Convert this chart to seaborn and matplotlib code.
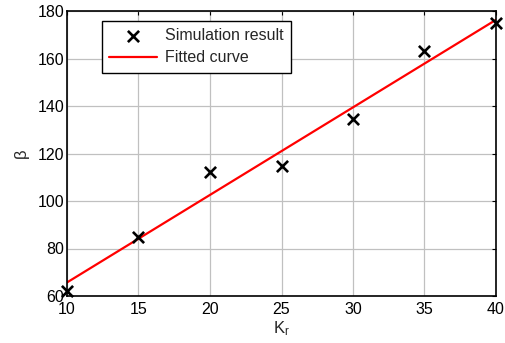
import matplotlib
matplotlib.use("Agg")
import matplotlib.pyplot as plt
import seaborn as sns
import pandas as pd

kr_values = [10, 15, 20, 25, 30, 35, 40]
beta_values = [62.2, 85.0, 112.3, 114.9, 134.4, 163.3, 174.8]
fit_x = [10, 40]
fit_y = [65.7, 176.3]
x_ticks = [10, 15, 20, 25, 30, 35, 40]
y_ticks = [60, 80, 100, 120, 140, 160, 180]

sns.set_style("white")
plt.rcParams['font.family'] = ['Liberation Sans', 'DejaVu Sans']
plt.rcParams['mathtext.fontset'] = 'custom'
plt.rcParams['mathtext.rm'] = 'Liberation Sans'
plt.rcParams['mathtext.it'] = 'Liberation Sans'

fig = plt.figure(figsize=(5.05, 3.43), dpi=100)
ax = fig.add_axes([67/505, 1 - 296/343, (496 - 67)/505, (296 - 11)/343])

sim = pd.DataFrame({"Kr": kr_values, "beta": beta_values})
fit = pd.DataFrame({"Kr": fit_x, "beta": fit_y})

sns.scatterplot(data=sim, x="Kr", y="beta", marker="x", color="black", s=65,
                linewidth=1.9, ax=ax, label="Simulation result", zorder=3,
                clip_on=False)
sns.lineplot(data=fit, x="Kr", y="beta", color="red", linewidth=1.6, ax=ax,
             label="Fitted curve", zorder=2)

ax.set_xlim(10, 40)
ax.set_ylim(60, 180)
ax.set_xticks(x_ticks)
ax.set_yticks(y_ticks)
ax.grid(True, color="#c0c0c0", linewidth=0.9)
ax.set_axisbelow(True)
for sp in ax.spines.values():
    sp.set_color("black")
    sp.set_linewidth(1.2)
ax.tick_params(direction="in", length=3, top=True, right=True, labelsize=11.5,
               colors="black")
ax.tick_params(axis="x", pad=4)
ax.tick_params(axis="y", pad=2)
ax.set_xlabel(r"K$_\mathrm{r}$", fontsize=12, labelpad=2)
ax.set_ylabel("β", fontsize=12, labelpad=6)

leg = ax.legend(loc="upper left", bbox_to_anchor=((102-67)/429, 1 - (21-11)/285),
                frameon=True, fancybox=False, fontsize=11.5, borderpad=0.45,
                handlelength=3.0, handletextpad=0.5, labelspacing=0.45,
                borderaxespad=0)
leg.get_frame().set_edgecolor("black")
leg.get_frame().set_linewidth(1.0)
leg.get_frame().set_alpha(1)

fig.savefig("out.png", dpi=100)
